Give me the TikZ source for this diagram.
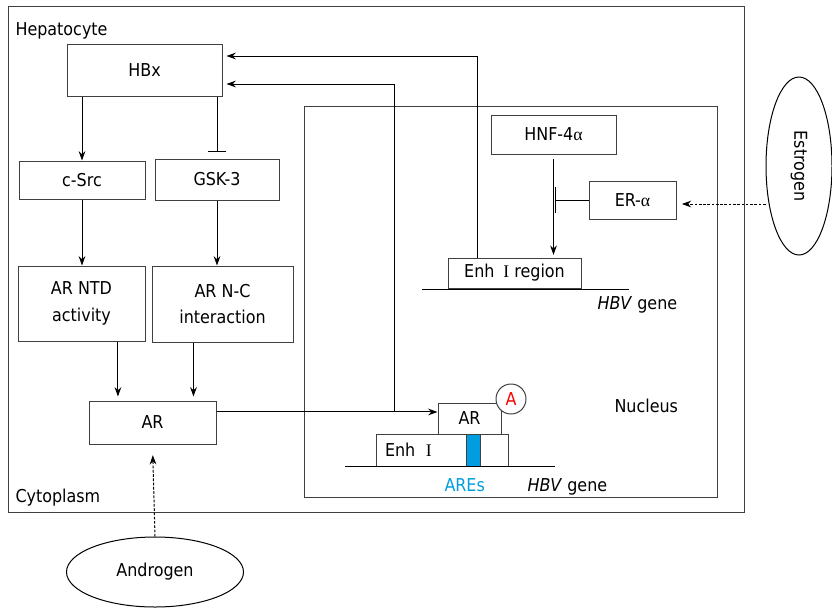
\documentclass[tikz,border=0pt]{standalone}
\usepackage{fontspec}
\setmainfont{DejaVu Sans Condensed}
\newfontfamily\symfnt{Liberation Serif}
\usetikzlibrary{arrows.meta,calc,shapes.geometric}

\definecolor{areblue}{RGB}{0,158,224}

\tikzset{every picture/.style={line width=0.75pt}}
\tikzset{
  every node/.style={font=\fontsize{13.3}{20}\selectfont},
  bx/.style 2 args={draw=black!75, minimum width=#1*0.75pt, minimum height=#2*0.75pt, inner sep=0pt, align=center},
  lbl/.style={inner sep=0pt},
  arr/.style={-{Stealth[length=7pt,width=5pt]}},
  blk/.style={-{Bar[width=14pt]}},
  dotarr/.style={arr, dash pattern=on 2pt off 1.2pt},
}

\begin{document}
\begin{tikzpicture}[x=0.75pt,y=0.75pt,yscale=-1,xscale=1]
\useasboundingbox (0,0) rectangle (832,608);

%Shape: Rectangle [hepatocyte]
\draw [draw=black!75] (8,6) rectangle (744,512);
%Shape: Rectangle [nucleus]
\draw [draw=black!75] (304,106) rectangle (717,497);

% cytoplasm side
\node [bx={155}{52}] (hbx) at (144.5,70) {HBx};
\node [bx={126}{38}] (csrc) at (82,180) {c-Src};
\node [bx={124}{41}] (gsk) at (217,179.5) {GSK-3};
\node [bx={127}{75}] (arntd) at (81.5,303.5) {AR NTD\\activity};
\node [bx={141}{76}] (arnc) at (222.5,304) {AR N-C\\interaction};
\node [bx={127}{43}] (ar) at (152.5,422.5) {AR};

% nucleus side
\node [bx={125}{39}] (hnf) at (553.5,134.5) {HNF-4{\symfnt α}};
\node [bx={87}{38}] (era) at (632.5,200) {ER-{\symfnt α}};
\node [bx={133}{30}] (enhreg) at (514.5,273) {Enh\hspace{0.5em}{\symfnt I} region};
\draw (422,289) -- (629,289);
\node [draw=black!75, minimum height=32*0.75pt, text width=114*0.75pt, inner xsep=9*0.75pt, inner ysep=0pt, align=left] (enh) at (442,450) {Enh\hspace{0.6em}{\symfnt I}};
\node [bx={14}{32}, fill=areblue] (ares) at (473,450) {};
\node [bx={63}{31}] (arsm) at (469.5,418.5) {AR};
\node [circle, draw=black!75, fill=white, minimum size=30*0.75pt, inner sep=0pt, text=red] (act) at (511,399) {A};
\draw (345,466) -- (555,466);

% Text Node
\node [lbl, anchor=base west] (hep) at (15,35) {Hepatocyte};
\node [lbl, anchor=base west] (cyto) at (15,502) {Cytoplasm};
\node [lbl, anchor=base west] (nuc) at (614,412) {Nucleus};
\node [lbl, anchor=base west] (gene1) at (597,309) {\textit{HBV} gene};
\node [lbl, anchor=base west] (gene2) at (527,491) {\textit{HBV} gene};
\node [lbl, anchor=base west, text=areblue] (areslbl) at (444,491) {AREs};

% hormones
\node [ellipse, draw, minimum width=177*0.75pt, minimum height=70*0.75pt, inner sep=0pt] (andro) at (155,572) {Androgen};
\node [ellipse, draw, rotate=-90, minimum width=178*0.75pt, minimum height=66*0.75pt, inner sep=0pt] (estro) at (799,166) {Estrogen};

% connectors
\draw [arr] (hbx.south -| csrc) -- (csrc.north);
\draw [blk, shorten >=5pt] (hbx.south -| gsk) -- (gsk.north);
\draw [arr] (csrc.south) -- (csrc.south |- arntd.north);
\draw [arr] (gsk.south) -- (gsk.south |- arnc.north);
\coordinate (ar1) at ($(ar.north west)!0.23!(ar.north east)$);
\coordinate (ar2) at ($(ar.north west)!0.82!(ar.north east)$);
\draw [arr, shorten >=3pt] (arntd.south -| ar1) -- (ar1);
\draw [arr, shorten >=3pt] (arnc.south -| ar2) -- (ar2);
\draw [arr] ([yshift=-7.9pt]ar.east) -- ([yshift=-7.9pt]ar.east -| arsm.west);
\coordinate (jn) at (394,412);
\draw [arr, shorten >=3pt] (jn) |- ([yshift=10.5pt]hbx.east);
\coordinate (er1) at ($(enhreg.north west)!0.225!(enhreg.north east)$);
\draw [arr, shorten >=3pt] (er1) |- ([yshift=-10.5pt]hbx.east);
\draw [arr, shorten <=3pt, shorten >=2pt] (hnf.south) -- (hnf.south |- enhreg.north);
\draw [-{Bar[width=19.5pt]}] (era.west) -- ([xshift=1.2pt]era.west -| hnf.south);
\draw [dotarr, shorten >=4pt] ([yshift=3pt]era.east -| estro.south) -- ([yshift=3pt]era.east);
\draw [dotarr, shorten >=8pt] (andro.north) -- (ar.south);
\end{tikzpicture}
\end{document}
